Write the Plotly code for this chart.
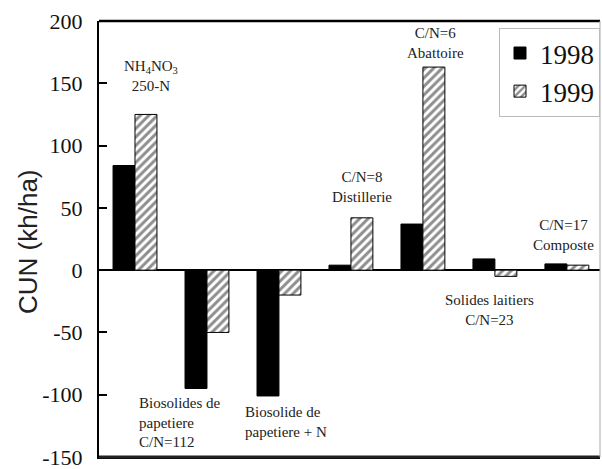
import plotly.graph_objects as go

# Amendment treatments (one group of bars per treatment)
treatments = ["NH4NO3", "Biosolides C/N=112", "Biosolide + N", "Distillerie",
              "Abattoire", "Solides laitiers", "Composte"]
cun_1998 = [84, -95, -101, 4, 37, 9, 5]
cun_1999 = [125, -50, -20, 42, 163, -5, 4]

y_ticks = [-150, -100, -50, 0, 50, 100, 150, 200]
y_tick_text = ["-150", "-100", "-50", "0", "50", "100", "150", "200"]

SERIF = "Liberation Serif"

fig = go.Figure()
fig.add_trace(go.Bar(
    x=treatments, y=cun_1998, name="1998",
    marker=dict(color="black", line=dict(color="black", width=1)),
))
fig.add_trace(go.Bar(
    x=treatments, y=cun_1999, name="1999",
    marker=dict(color="white", line=dict(color="black", width=1),
                pattern=dict(shape="/", fgcolor="#1e1e1e", bgcolor="white",
                             size=6, solidity=0.5)),
))

# Treatment labels placed near their bars
notes = [
    (treatments[0], 140, "NH<sub>4</sub>NO<sub>3</sub><br>250-N", "center", "bottom"),
    (treatments[1], -99, "Biosolides de<br>papetiere<br>C/N=112", "left", "top"),
    (treatments[2], -106, "Biosolide de<br>papetiere + N", "left", "top"),
    (treatments[3], 51, "C/N=8<br>Distillerie", "center", "bottom"),
    (treatments[4], 166, "C/N=6<br>Abattoire", "center", "bottom"),
    (treatments[5], -16, "Solides laitiers<br>C/N=23", "center", "top"),
    (treatments[6], 12, "C/N=17<br>Composte", "center", "bottom"),
]
x_shift = [16, -70, -36, 11, 13, -5, -3]
for (cat, yv, txt, align, yanch), dx in zip(notes, x_shift):
    fig.add_annotation(
        x=cat, y=yv, text=txt, showarrow=False, xref="x", yref="y",
        xanchor="left" if align == "left" else "center", yanchor=yanch,
        align=align, xshift=dx,
        font=dict(family=SERIF, size=15, color="#222"),
    )

# Axis title
fig.add_annotation(
    x=-0.143, y=0.494, xref="paper", yref="paper", text="CUN (kh/ha)",
    textangle=-90, showarrow=False, xanchor="center", yanchor="middle",
    font=dict(family="Liberation Sans", size=26, color="#222"),
)

fig.update_layout(
    width=602, height=469,
    margin=dict(l=99, r=2, t=21, b=12),
    paper_bgcolor="white", plot_bgcolor="white",
    barmode="group", bargap=0.39, bargroupgap=0,
    showlegend=True,
    legend=dict(
        x=1.0, y=0.984, xanchor="right", yanchor="top",
        bgcolor="white", bordercolor="#bbb", borderwidth=1,
        font=dict(family=SERIF, size=27, color="#111"),
        itemwidth=30, tracegroupgap=0,
    ),
    xaxis=dict(
        range=[-0.5, 6.46], showticklabels=False, ticks="",
        showline=True, linecolor="black", linewidth=2, mirror=False,
        showgrid=False, zeroline=False, automargin=False,
    ),
    yaxis=dict(
        range=[-150, 200], tickvals=y_ticks, ticktext=y_tick_text,
        ticks="inside", ticklen=8, tickwidth=2, tickcolor="black",
        ticklabelstandoff=10, ticklabeloverflow="allow", automargin=False,
        showline=True, linecolor="black", linewidth=2, mirror=False,
        showgrid=False, zeroline=True, zerolinecolor="black", zerolinewidth=2,
        tickfont=dict(family=SERIF, size=22, color="#111"),
    ),
)

# Frame: heavy top and bottom, light right edge
fig.add_shape(type="line", xref="paper", yref="paper", x0=0, x1=1, y0=1, y1=1,
              line=dict(color="black", width=2.5))
fig.add_shape(type="line", xref="paper", yref="paper", x0=0, x1=1, y0=0, y1=0,
              line=dict(color="#222", width=3))
fig.add_shape(type="line", xref="paper", yref="paper", x0=1, x1=1, y0=0, y1=1,
              line=dict(color="#aaa", width=1))

fig.write_html("out.html")
